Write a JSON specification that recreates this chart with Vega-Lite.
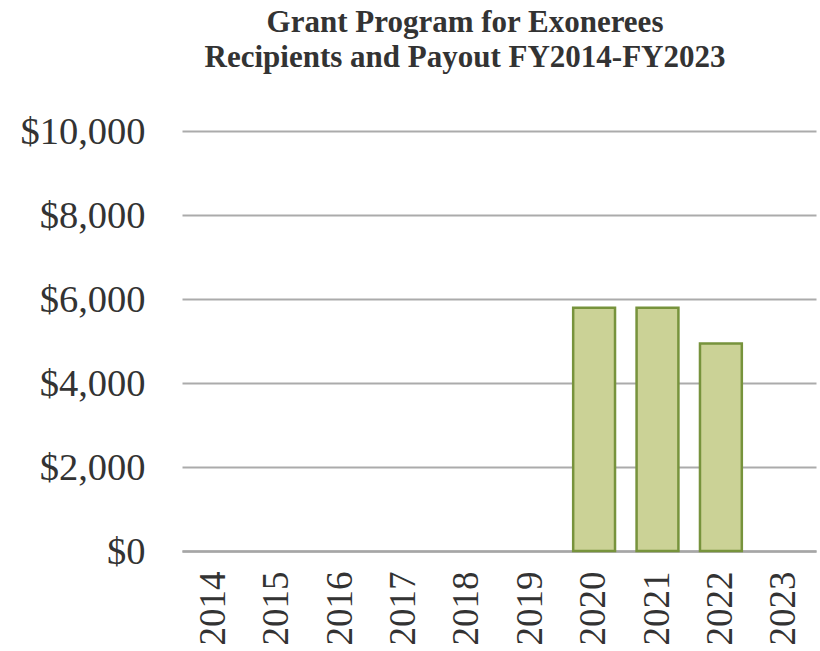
{
  "$schema": "https://vega.github.io/schema/vega-lite/v6.json",
  "width": 634,
  "height": 420,
  "autosize": {"type": "none"},
  "padding": {"left": 182, "top": 131, "right": 4, "bottom": 100},
  "background": "white",
  "title": {
    "text": ["Grant Program for Exonerees", "Recipients and Payout FY2014-FY2023"],
    "font": "Liberation Serif",
    "fontSize": 31,
    "fontWeight": "bold",
    "color": "#333333",
    "lineHeight": 35,
    "anchor": "middle",
    "dx": -34,
    "offset": 38
  },
  "data": {
    "values": [
      {"year": "2014", "payout": null},
      {"year": "2015", "payout": null},
      {"year": "2016", "payout": null},
      {"year": "2017", "payout": null},
      {"year": "2018", "payout": null},
      {"year": "2019", "payout": null},
      {"year": "2020", "payout": 5790},
      {"year": "2021", "payout": 5790},
      {"year": "2022", "payout": 4940},
      {"year": "2023", "payout": null}
    ]
  },
  "mark": {"type": "bar", "fill": "#cbd296", "stroke": "#77933c", "strokeWidth": 2.5},
  "encoding": {
    "x": {
      "field": "year",
      "type": "ordinal",
      "sort": null,
      "scale": {"domain": ["2014", "2015", "2016", "2017", "2018", "2019", "2020", "2021", "2022", "2023"], "paddingInner": 0.34, "paddingOuter": 0.17},
      "axis": {
        "title": null,
        "labelAngle": -90,
        "labelFont": "Liberation Serif",
        "labelFontSize": 37,
        "labelColor": "#333333",
        "labelPadding": 20,
        "ticks": false,
        "domainColor": "#a6a6a6",
        "domainWidth": 2.5,
        "grid": false
      }
    },
    "y": {
      "field": "payout",
      "type": "quantitative",
      "scale": {"domain": [0, 10000]},
      "axis": {
        "title": null,
        "values": [0, 2000, 4000, 6000, 8000, 10000],
        "format": "$,.0f",
        "labelFont": "Liberation Serif",
        "labelFontSize": 38.5,
        "labelColor": "#333333",
        "labelPadding": 37,
        "ticks": false,
        "domain": false,
        "gridColor": "#ababab",
        "gridWidth": 2
      }
    }
  },
  "config": {"view": {"stroke": null}}
}
